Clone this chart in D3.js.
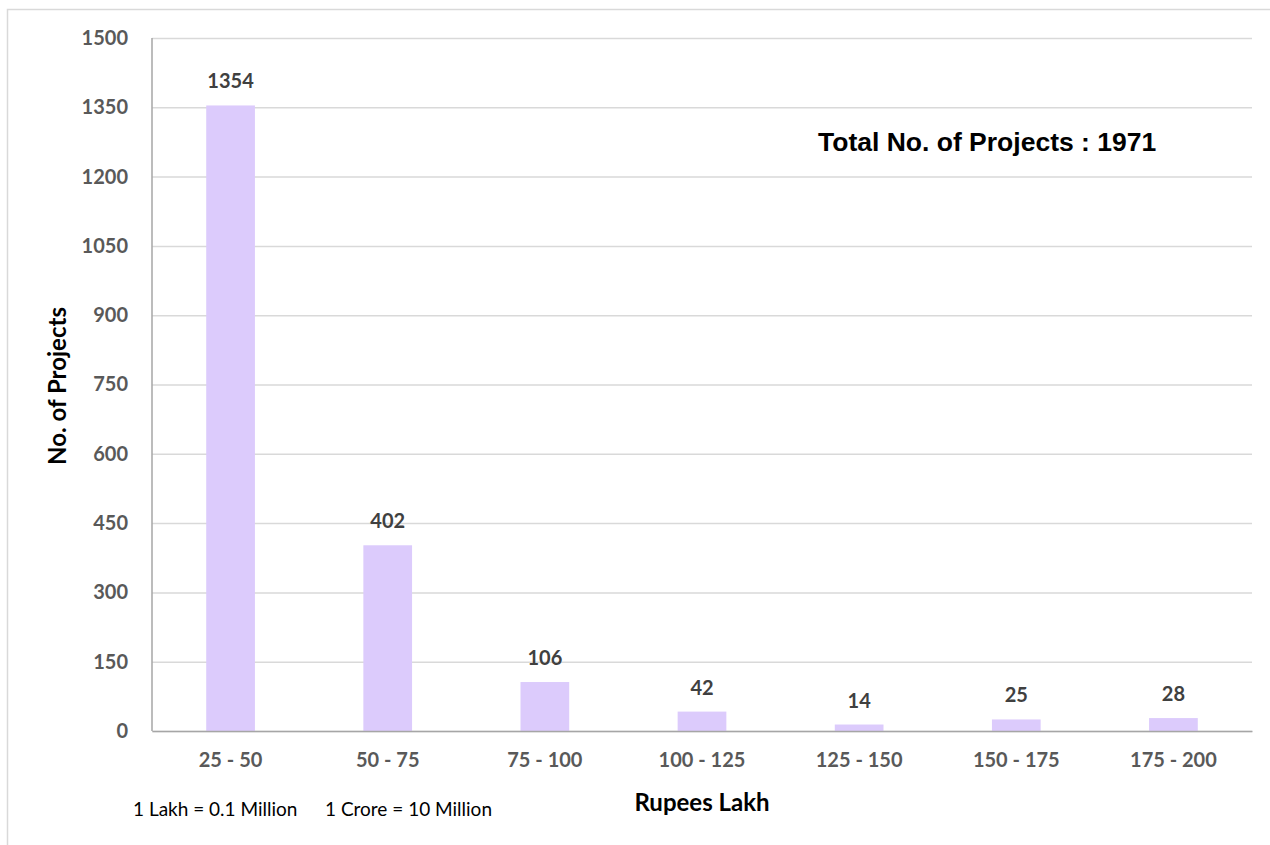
<!DOCTYPE html>
<html><head><meta charset="utf-8">
<script src="https://cdn.jsdelivr.net/npm/d3@7"></script>
<style>body{margin:0;background:#fff}svg{display:block}</style>
</head><body>
<svg id="c" width="1270" height="845"></svg>
<script>
const categories = ["25 - 50","50 - 75","75 - 100","100 - 125","125 - 150","150 - 175","175 - 200"];
const values = [1354, 402, 106, 42, 14, 25, 28];
const yTicks = [0,150,300,450,600,750,900,1050,1200,1350,1500];

const svg = d3.select("#c");
const m = {left:152, right:1252, top:38, bottom:731};
const FONT = "Lato, 'Open Sans', sans-serif";

svg.append("rect").attr("x",7.5).attr("y",9.5).attr("width",1270).attr("height",845)
  .attr("fill","#fff").attr("stroke","#d9d9d9").attr("stroke-width",1.5);

const x = d3.scaleBand().domain(categories).range([m.left, m.right]).paddingInner(0.69).paddingOuter(0.345);
const y = d3.scaleLinear().domain([0,1500]).range([m.bottom, m.top]);

const yAxis = d3.axisLeft(y).tickValues(yTicks).tickFormat(d3.format("d")).tickSize(-(m.right-m.left)).tickPadding(24);
const gy = svg.append("g").attr("transform",`translate(${m.left},0)`).call(yAxis);
gy.select(".domain").remove();
gy.selectAll(".tick line").attr("stroke","#d9d9d9").attr("stroke-width",1.5);
gy.selectAll(".tick text").attr("fill","#595959").style("font-family",FONT)
  .style("font-weight","bold").style("font-size","20px");

svg.append("g").selectAll("rect").data(values).join("rect")
  .attr("x",(d,i)=>x(categories[i])).attr("width",x.bandwidth())
  .attr("y",d=>y(d)).attr("height",d=>y(0)-y(d)).attr("fill","#dccbfc");

svg.append("line").attr("x1",m.left).attr("x2",m.left).attr("y1",m.top).attr("y2",m.bottom)
  .attr("stroke","#a6a6a6").attr("stroke-width",1.5);
const gx = svg.append("g").attr("transform",`translate(0,${m.bottom})`).call(d3.axisBottom(x).tickSize(0).tickPadding(22));
gx.select(".domain").attr("stroke","#a6a6a6").attr("stroke-width",1.5);
gx.selectAll(".tick text").attr("fill","#595959").style("font-family",FONT)
  .style("font-weight","bold").style("font-size","20px");

svg.append("g").selectAll("text").data(values).join("text")
  .attr("x",(d,i)=>x(categories[i])+x.bandwidth()/2).attr("y",d=>y(d)-17)
  .attr("text-anchor","middle").attr("fill","#404040")
  .style("font-family",FONT).style("font-weight","bold").style("font-size","20px")
  .text(d=>d);

svg.append("text").attr("transform","translate(66,386) rotate(-90)").attr("text-anchor","middle")
  .style("font-family",FONT).style("font-weight","bold").style("font-size","24px")
  .attr("fill","#000").text("No. of Projects");
svg.append("text").attr("x",702).attr("y",811).attr("text-anchor","middle")
  .style("font-family",FONT).style("font-weight","bold").style("font-size","24px")
  .attr("fill","#000").text("Rupees Lakh");
svg.append("text").attr("x",133).attr("y",816)
  .style("font-family",FONT).style("font-size","19px")
  .attr("fill","#000").text("1 Lakh = 0.1 Million");
svg.append("text").attr("x",325).attr("y",816)
  .style("font-family",FONT).style("font-size","19px")
  .attr("fill","#000").text("1 Crore = 10 Million");
svg.append("text").attr("x",818).attr("y",151)
  .style("font-family","'Liberation Sans', Arial, sans-serif").style("font-weight","bold").style("font-size","26.5px")
  .attr("fill","#000").text("Total No. of Projects : 1971");
</script>
</body></html>
